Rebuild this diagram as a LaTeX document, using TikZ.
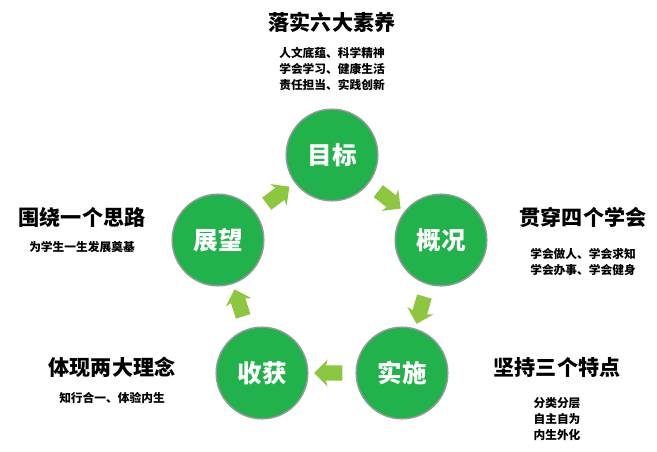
\documentclass[tikz,border=0pt]{standalone}
\usepackage{fontspec}
\setmainfont{Noto Sans CJK SC}
\usetikzlibrary{shapes.arrows,calc}
\definecolor{circgreen}{HTML}{22B24C}
\definecolor{arrowgreen}{HTML}{8DC63F}
\tikzset{
  stage/.style={circle, draw=gray!80, line width=1.2pt, fill=circgreen, minimum size=2.75cm, text=white, font=\bfseries\fontsize{21}{24}\selectfont},
  flow/.style={single arrow, fill=arrowgreen, draw=none, minimum height=0.85cm, inner sep=0.22cm, single arrow head extend=0.18cm, single arrow head indent=0.05cm},
  heading/.style={font=\bfseries\fontsize{18}{20}\selectfont},
  detail/.style={font=\bfseries\fontsize{10}{14}\selectfont, align=center}
}
\begin{document}
\begin{tikzpicture}[x=0.03cm,y=-0.03cm]
\useasboundingbox (0,0) rectangle (657,451);

% Circles
\node [stage] (goal) at (332,155) {目标};
\node [stage] (overview) at (441,240) {概况};
\node [stage] (practice) at (402,373) {实施};
\node [stage] (harvest) at (262,373) {收获};
\node [stage] (outlook) at (218,240) {展望};

% Arrows
\node [flow, rotate=-38] (a1) at ($(goal)!0.5!(overview)$) {};
\node [flow, rotate=-106] (a2) at ($(overview)!0.5!(practice)$) {};
\node [flow, rotate=180] (a3) at ($(practice)!0.5!(harvest)$) {};
\node [flow, rotate=108] (a4) at ($(harvest)!0.5!(outlook)$) {};
\node [flow, rotate=37] (a5) at ($(outlook)!0.5!(goal)$) {};

% Texts
\node [heading] (goaltitle) at (332,22) {落实六大素养};
\node [detail] (goaltext) at (332,69) {人文底蕴、科学精神\\学会学习、健康生活\\责任担当、实践创新};
\node [heading] (overviewtitle) at (583,217) {贯穿四个学会};
\node [detail] (overviewtext) at (583,262) {学会做人、学会求知\\学会办事、学会健身};
\node [heading] (practicetitle) at (557,367) {坚持三个特点};
\node [detail] (practicetext) at (557,419) {分类分层\\自主自为\\内生外化};
\node [heading] (harvesttitle) at (112,367) {体现两大理念};
\node [detail] (harvesttext) at (112,398) {知行合一、体验内生};
\node [heading] (outlooktitle) at (82,217) {围绕一个思路};
\node [detail] (outlooktext) at (82,247) {为学生一生发展奠基};
\end{tikzpicture}
\end{document}
